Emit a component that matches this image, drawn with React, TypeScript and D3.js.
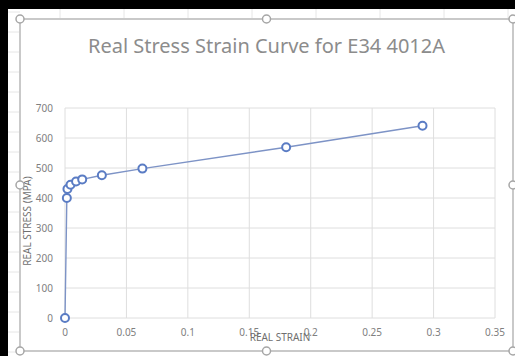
import React from "react";
import * as d3 from "d3";

// Real strain / real stress (MPa) readings
const strain = [0, 0.0015, 0.002, 0.0045, 0.009, 0.014, 0.03, 0.063, 0.18, 0.291];
const stress = [0, 400, 430, 444, 455, 462, 476, 498, 569, 641];

const xTicks = [0, 0.05, 0.1, 0.15, 0.2, 0.25, 0.3, 0.35];
const xTickLabels = ["0", "0.05", "0.1", "0.15", "0.2", "0.25", "0.3", "0.35"];
const yTicks = [0, 100, 200, 300, 400, 500, 600, 700];

const title = "Real Stress Strain Curve for E34 4012A";
const xTitle = "REAL STRAIN";
const yTitle = "REAL STRESS (MPA)";

const W = 515;
const H = 356;

export default function App() {
  const x = d3.scaleLinear().domain([0, 0.35]).range([65, 495]);
  const y = d3.scaleLinear().domain([0, 700]).range([318, 108]);

  const pts = strain.map((s, i) => [s, stress[i]] as [number, number]);
  const line = d3
    .line<[number, number]>()
    .x((d) => x(d[0]))
    .y((d) => y(d[1]));

  const frame = { l: 20, t: 19, r: 513, b: 351 };
  const handles: [number, number][] = [
    [frame.l, frame.t],
    [(frame.l + frame.r) / 2, frame.t],
    [frame.r, frame.t],
    [frame.l, (frame.t + frame.b) / 2],
    [frame.r, (frame.t + frame.b) / 2],
    [frame.l, frame.b],
    [(frame.l + frame.r) / 2, frame.b],
    [frame.r, frame.b],
  ];

  const font = "'Noto Sans', 'Open Sans', sans-serif";
  const labelColor = "#808080";

  // faint spreadsheet cell lines behind the chart object
  const cellRows = d3.range(12, H, 20);
  const cellCols = d3.range(60, W, 64);

  return (
    <div style={{ position: "fixed", left: 0, top: 0 }}>
      <svg width={W} height={H} style={{ display: "block" }}>
        <rect x={0} y={0} width={W} height={H} fill="#ffffff" />
        {cellRows.map((r) => (
          <line key={"r" + r} x1={8} x2={frame.l} y1={r} y2={r} stroke="#e6e6e6" strokeWidth={1} />
        ))}
        {cellCols.map((c) => (
          <line key={"c" + c} x1={c} x2={c} y1={9} y2={frame.t} stroke="#e6e6e6" strokeWidth={1} />
        ))}

        {/* chart area */}
        <rect
          x={frame.l}
          y={frame.t}
          width={frame.r - frame.l}
          height={frame.b - frame.t}
          fill="#ffffff"
          stroke="#c9c9c9"
          strokeWidth={2}
        />

        <text
          x={(frame.l + frame.r) / 2}
          y={53}
          textAnchor="middle"
          fontFamily={font}
          fontSize={20}
          fill="#8c8c8c"
        >
          {title}
        </text>

        {/* gridlines */}
        {yTicks.map((t) => (
          <line key={"gy" + t} x1={x(0)} x2={x(0.35)} y1={y(t)} y2={y(t)} stroke="#dedede" strokeWidth={1} />
        ))}
        {xTicks.map((t) => (
          <line key={"gx" + t} x1={x(t)} x2={x(t)} y1={y(700)} y2={y(0)} stroke="#dedede" strokeWidth={1} />
        ))}

        {/* tick labels */}
        {yTicks.map((t) => (
          <text
            key={"ly" + t}
            x={53}
            y={y(t) + 3.5}
            textAnchor="end"
            fontFamily={font}
            fontSize={10}
            fill={labelColor}
          >
            {t}
          </text>
        ))}
        {xTicks.map((t, i) => (
          <text
            key={"lx" + t}
            x={x(t)}
            y={336}
            textAnchor="middle"
            fontFamily={font}
            fontSize={10}
            fill={labelColor}
          >
            {xTickLabels[i]}
          </text>
        ))}

        {/* axis titles */}
        <text
          x={280}
          y={341}
          textAnchor="middle"
          fontFamily={font}
          fontSize={10}
          fill="#6f6f6f"
        >
          {xTitle}
        </text>
        <text
          transform={`translate(31, 221) rotate(-90)`}
          textAnchor="middle"
          fontFamily={font}
          fontSize={10}
          fill="#6f6f6f"
        >
          {yTitle}
        </text>

        {/* series */}
        <path d={line(pts) || ""} fill="none" stroke="#7d93c6" strokeWidth={1.4} />
        {pts.map((p, i) => (
          <circle
            key={"p" + i}
            cx={x(p[0])}
            cy={y(p[1])}
            r={4}
            fill="#ffffff"
            stroke="#5a7cc4"
            strokeWidth={2}
          />
        ))}

        {/* selection handles */}
        {handles.map((h, i) => (
          <circle key={"h" + i} cx={h[0]} cy={h[1]} r={4} fill="#ffffff" stroke="#a6a6a6" strokeWidth={1.5} />
        ))}

        {/* dark window edge */}
        <rect x={0} y={0} width={W} height={9} fill="#000000" />
        <rect x={0} y={0} width={8} height={H} fill="#000000" />
      </svg>
    </div>
  );
}
